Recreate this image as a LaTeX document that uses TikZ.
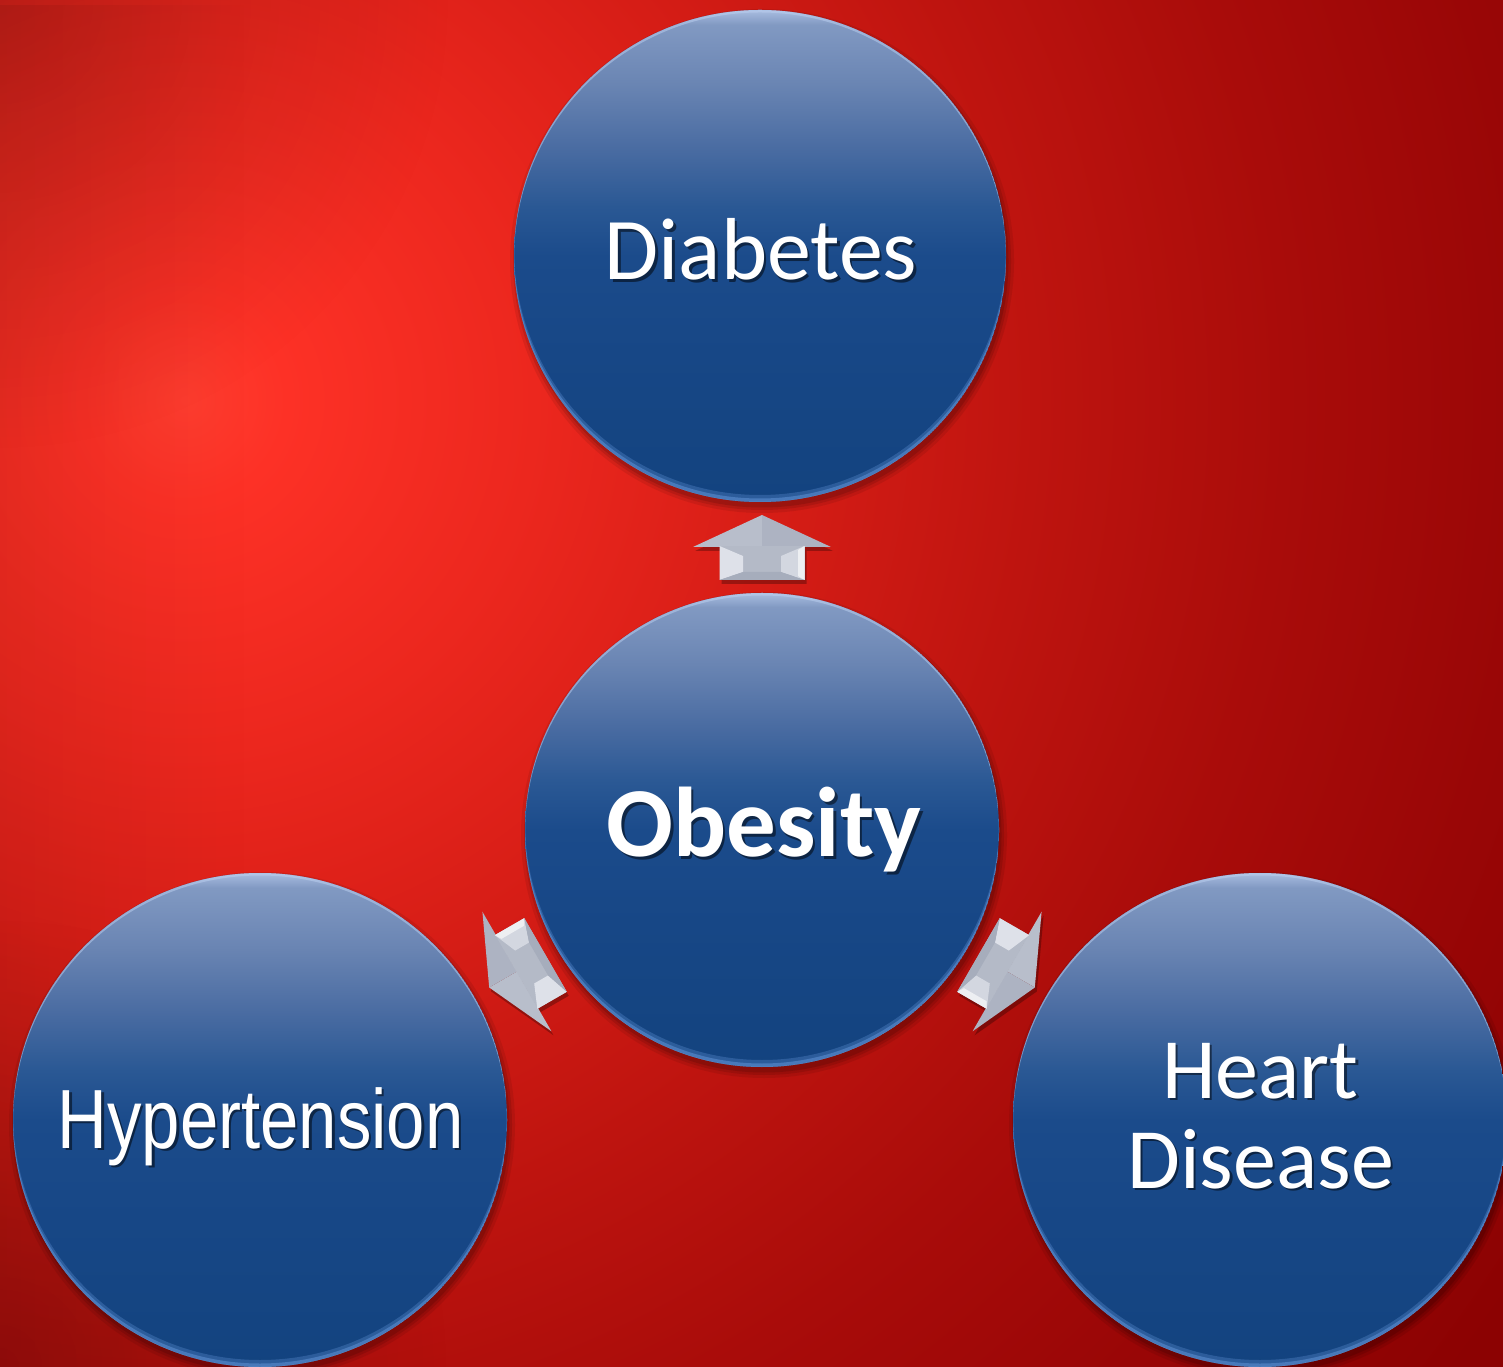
\documentclass[tikz,border=0pt]{standalone}
\usepackage{fontspec}
\usepackage{graphicx}
\setmainfont{Carlito}
\newfontfamily\arialfont{Liberation Sans}
\usetikzlibrary{fadings,calc}

\definecolor{bg0}{HTML}{FF3D2F}
\definecolor{bg1}{HTML}{FD3126}
\definecolor{bg2}{HTML}{EC271E}
\definecolor{bg3}{HTML}{D61D16}
\definecolor{bg4}{HTML}{BE140F}
\definecolor{bg5}{HTML}{A90C0A}
\definecolor{bg6}{HTML}{990606}
\definecolor{bg7}{HTML}{8C0202}
\pgfdeclareradialshading{bgrad}{\pgfpoint{0bp}{0bp}}{color(0bp)=(bg0); color(1.5bp)=(bg1); color(5.15bp)=(bg2); color(8.82bp)=(bg3); color(12.5bp)=(bg4); color(16.18bp)=(bg5); color(19.85bp)=(bg6); color(23.53bp)=(bg7); color(50bp)=(bg7)}

\definecolor{bl0}{HTML}{A9BDE0}
\definecolor{bl1}{HTML}{8199C2}
\definecolor{bl2}{HTML}{6A85B3}
\definecolor{bl3}{HTML}{4A6CA2}
\definecolor{bl4}{HTML}{2A5894}
\definecolor{bl5}{HTML}{1B4B8B}
\definecolor{bl6}{HTML}{174786}
\definecolor{bl7}{HTML}{13437F}
\definecolor{rimblue}{HTML}{5B8DD0}
\definecolor{rimtop}{HTML}{BCD0F0}
\pgfdeclareverticalshading{ballshade}{100bp}{color(0bp)=(bl7); color(25bp)=(bl7); color(40bp)=(bl6); color(50bp)=(bl5); color(55bp)=(bl4); color(61bp)=(bl3); color(67.5bp)=(bl2); color(73.5bp)=(bl1); color(75bp)=(bl0); color(100bp)=(bl0)}

\definecolor{arrA}{HTML}{B8BECB}
\definecolor{arrB}{HTML}{ADB3C2}
\definecolor{arrC}{HTML}{B4BAC7}
\definecolor{arrL}{HTML}{DEE1E9}
\definecolor{arrR}{HTML}{D3D7E0}
\definecolor{arrD}{HTML}{A6ADBC}

\tikzfading[name=softcirc, inner color=transparent!0, outer color=transparent!100]

\tikzset{
  ballnode/.style={circle, inner sep=0pt, draw=none},
  txt/.style={text=white, inner sep=0pt, anchor=base},
  txtsh/.style={text=black, opacity=.5, inner sep=0pt, anchor=base},
  blockarrow/.pic={
    \fill[arrA] (32,0) -- (0,69) -- (0,0) -- cycle;
    \fill[arrB] (32,0) -- (0,0) -- (0,-69) -- cycle;
    \fill[arrC] (0.5,42.5) -- (0.5,-42.5) -- (-33,-42.5) -- (-33,42.5) -- cycle;
    \fill[arrL] (1,42.5) -- (-9,19) -- (-25,19) -- (-33,42.5) -- cycle;
    \fill[arrR] (1,-42.5) -- (-9,-19) -- (-25,-19) -- (-33,-42.5) -- cycle;
    \fill[white,opacity=.6] (1,-42.5) -- (-3,-36) -- (-29,-36) -- (-33,-42.5) -- cycle;
    \fill[arrD] (-33,42.5) -- (-25,19) -- (-25,-19) -- (-33,-42.5) -- cycle;
  },
  arrowshade/.pic={
    \fill[black,opacity=.28] (32,0) -- (0,69) -- (0,42.5) -- (-33,42.5) -- (-33,-42.5) -- (0,-42.5) -- (0,-69) -- cycle;
  }
}

\newcommand{\ballshadow}[2]{%
  \fill[black,opacity=.08] ($(#1.center)+(2,-5)$) circle[radius={(#2+6)*1pt}];
  \fill[black,opacity=.10] ($(#1.center)+(2,-5)$) circle[radius={(#2+3)*1pt}];
  \fill[black,opacity=.12] ($(#1.center)+(2,-5)$) circle[radius={(#2+0.5)*1pt}];
}
\newcommand{\ballbody}[2]{%
  \shade[shading=ballshade] (#1.center) circle[radius={#2*1pt}];
  \begin{scope}
    \clip (#1.center) circle[radius={#2*1pt}];
    \fill[rimblue,opacity=.35,even odd rule] (#1.center) circle[radius={#2*1pt}] ($(#1.center)+(0,7)$) circle[radius={#2*1pt}];
    \fill[rimblue,opacity=.6,even odd rule] (#1.center) circle[radius={#2*1pt}] ($(#1.center)+(0,3.5)$) circle[radius={#2*1pt}];
    \fill[rimtop,opacity=.5,even odd rule] (#1.center) circle[radius={#2*1pt}] ($(#1.center)+(0,-2.5)$) circle[radius={#2*1pt}];
  \end{scope}
}

\begin{document}
\begin{tikzpicture}[x=1pt,y=1pt]
\useasboundingbox (0,0) rectangle (1503,1366);
\clip (0,0) rectangle (1503,1366);

% background
\shade[shading=bgrad] (-1515,-734) rectangle (1885,2666);
\fill[black,opacity=.07,path fading=east] (0,0) rectangle (250,1366);
\fill[black,opacity=.18,path fading=softcirc] (-450,916) rectangle (450,1816);
\fill[black,opacity=.15,path fading=softcirc] (-450,-450) rectangle (450,450);

% circle nodes (anchors)
\node[ballnode, minimum size=492pt] (diab) at (760,1110) {};
\node[ballnode, minimum size=474pt] (obes) at (762,536) {};
\node[ballnode, minimum size=494pt] (hyper) at (260,246) {};
\node[ballnode, minimum size=494pt] (heart) at (1260,246) {};

\coordinate (a1) at ($(obes.center)+(90:283)$);
\coordinate (a2) at ($(obes.center)+(210:283)$);
\coordinate (a3) at ($(obes.center)+(-30:283)$);

% shadows
\ballshadow{diab}{246}
\ballshadow{obes}{237}
\ballshadow{hyper}{247}
\ballshadow{heart}{247}
\pic[rotate=90] at ($(a1)+(2,-4)$) {arrowshade};
\pic[rotate=210] at ($(a2)+(2,-4)$) {arrowshade};
\pic[rotate=-30] at ($(a3)+(2,-4)$) {arrowshade};

% circles
\ballbody{diab}{246}
\ballbody{obes}{237}
\ballbody{hyper}{247}
\ballbody{heart}{247}

% arrows
\pic[rotate=90] at (a1) {blockarrow};
\pic[rotate=210] at (a2) {blockarrow};
\pic[rotate=-30] at (a3) {blockarrow};

% texts
\node[txtsh, font=\fontsize{88}{88}\selectfont] (tdiab-s) at (763.5,1083.5) {Diabetes};
\node[txt, font=\fontsize{88}{88}\selectfont] (tdiab) at (761,1086) {Diabetes};

\node[txtsh, font=\bfseries\fontsize{99}{99}\selectfont] (tobes-s) at (766.5,506.5) {Obesity};
\node[txt, font=\bfseries\fontsize{99}{99}\selectfont] (tobes) at (764,509) {Obesity};

\node[txtsh] (thyp-s) at (263,215.5) {\arialfont\fontsize{84}{84}\selectfont\scalebox{0.82}[1]{Hypertension}};
\node[txt] (thyp) at (260.5,218) {\arialfont\fontsize{84}{84}\selectfont\scalebox{0.82}[1]{Hypertension}};

\node[txtsh, font=\fontsize{86}{86}\selectfont] (theart-s) at (1263,265.5) {Heart};
\node[txt, font=\fontsize{86}{86}\selectfont] (theart) at (1260.5,268) {Heart};
\node[txtsh, font=\fontsize{86}{86}\selectfont] (tdis-s) at (1263,175.5) {Disease};
\node[txt, font=\fontsize{86}{86}\selectfont] (tdis) at (1260.5,178) {Disease};
\end{tikzpicture}
\end{document}
